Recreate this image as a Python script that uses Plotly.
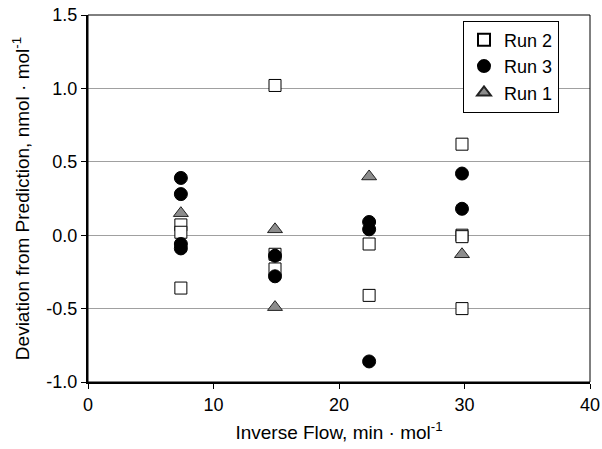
import plotly.graph_objects as go

# Data
run2_x = [7.4, 7.4, 7.4, 14.9, 14.9, 14.9, 22.4, 22.4, 29.8, 29.8, 29.8, 29.8]
run2_y = [0.07, 0.02, -0.36, 1.02, -0.13, -0.23, -0.06, -0.41, 0.62, 0.0, -0.01, -0.50]

run3_x = [7.4, 7.4, 7.4, 7.4, 14.9, 14.9, 22.4, 22.4, 22.4, 29.8, 29.8]
run3_y = [0.39, 0.28, -0.06, -0.09, -0.14, -0.28, 0.09, 0.04, -0.86, 0.42, 0.18]

run1_x = [7.4, 14.9, 14.9, 22.4, 29.8]
run1_y = [0.15, 0.04, -0.49, 0.40, -0.13]

x_ticks = [0, 10, 20, 30, 40]
y_ticks = [-1.0, -0.5, 0.0, 0.5, 1.0, 1.5]

fig = go.Figure()
fig.add_trace(go.Scatter(
    x=run2_x, y=run2_y, mode="markers", name="Run 2",
    marker=dict(symbol="square", size=12, color="white",
                line=dict(color="black", width=1))))
fig.add_trace(go.Scatter(
    x=run3_x, y=run3_y, mode="markers", name="Run 3",
    marker=dict(symbol="circle", size=13, color="black",
                line=dict(color="black", width=1))))
fig.add_trace(go.Scatter(
    x=run1_x, y=run1_y, mode="markers", name="Run 1",
    marker=dict(symbol="triangle-up", size=13, color="#8c8c8c",
                line=dict(color="#222222", width=1))))

font = "Liberation Sans, Arial, sans-serif"
fig.update_layout(
    width=602, height=449,
    margin=dict(l=88, r=12, t=15, b=67),
    paper_bgcolor="white", plot_bgcolor="white",
    font=dict(family=font, size=18, color="black"),
    showlegend=True,
    legend=dict(x=0.747, y=0.985, xanchor="left", yanchor="top",
                bgcolor="white", bordercolor="black", borderwidth=1,
                font=dict(size=18), itemsizing="constant",
                tracegroupgap=0),
    xaxis=dict(range=[0, 40], tickvals=x_ticks, ticktext=[str(v) for v in x_ticks],
               showgrid=False, zeroline=False, automargin=False,
               ticklabeloverflow="allow",
               showline=True, linecolor="black", linewidth=2, mirror=False,
               ticks="outside", ticklen=5, tickcolor="black",
               tickfont=dict(size=18),
               title=dict(text="Inverse Flow, min · mol<sup>-1</sup>", standoff=12,
                          font=dict(size=19))),
    yaxis=dict(range=[-1.0, 1.5], tickvals=y_ticks,
               ticktext=[f"{v:.1f}" for v in y_ticks],
               showgrid=True, gridcolor="#a0a0a0", gridwidth=1, zeroline=False,
               automargin=False, ticklabeloverflow="allow",
               showline=True, linecolor="black", linewidth=2, mirror=False,
               ticks="outside", ticklen=5, tickcolor="black",
               tickfont=dict(size=18),
               title=dict(text="Deviation from Prediction, nmol · mol<sup>-1</sup>",
                          standoff=12, font=dict(size=19))),
)
# thin top/right frame
fig.add_shape(type="rect", xref="paper", yref="paper", x0=0, y0=0, x1=1, y1=1,
              line=dict(color="black", width=1), layer="above")

fig.write_html("out.html", config={"displayModeBar": False},
               post_script="document.body.style.margin='0';document.body.style.overflow='hidden';")
